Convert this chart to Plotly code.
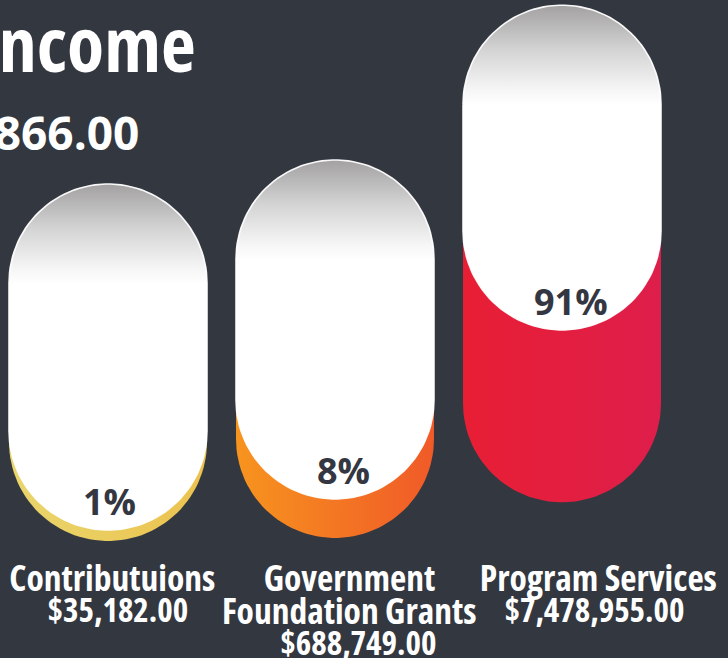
import json
import numpy as np
import plotly.graph_objects as go

# ---------------- data ----------------
categories = ["Contributuions", "Government<br>Foundation Grants", "Program Services"]
amounts = [35182.00, 688749.00, 7478955.00]
amount_labels = ["$35,182.00", "$688,749.00", "$7,478,955.00"]
percents = [1, 8, 91]
title_line1 = "Total Income"
title_line2 = "$8,202,866.00"

# ---------------- style ----------------
W, H = 728, 658
BG = "#333740"
TEXT_DARK = "#343741"
fill_colors = [["#e9d66c", "#ecc24f"], ["#f7941e", "#f05a28"], ["#e81e34", "#de1e4b"]]
white_scale = [[0, "#a3a1a2"], [0.45, "#d4d4d4"], [0.85, "#f6f6f6"], [1, "#ffffff"]]
FONT = "Open Sans"

X_PX0, X_STEP = 108, 227          # pixel centre of first column, pixels per column
PILL_R = 99                        # pill radius in px
LABEL_PX0, LABEL_STEP = 112, 243   # label column centres
label_xshift = [0, -6, 0]
amount_xshift = [6, 3, -4]
pct_xshift = [1, 8, 9]
LABEL_STRETCH = "75%"
TITLE_STRETCH = "75%"


def px_x(px):
    return (px - X_PX0) / X_STEP


# scales from percentage to pill geometry (y in px, downwards)
def stack_bottom(p):
    return 541 - 0.43 * (p - 1)


def stack_top(p):
    return stack_bottom(p) - (357 + 4.95 * (p - 1) ** 0.743)


def visible(p):
    return 11 * p ** 0.61


def pill(cx, top, bottom, r_px, n=60):
    rx = r_px / X_STEP
    t1 = np.linspace(np.pi, 0, n)
    t2 = np.linspace(0, -np.pi, n)
    xs = np.concatenate([cx + rx * np.cos(t1), cx + rx * np.cos(t2)])
    ys = np.concatenate([(top + r_px) - r_px * np.sin(t1), (bottom - r_px) - r_px * np.sin(t2)])
    xs = np.append(xs, xs[0])
    ys = np.append(ys, ys[0])
    return xs, ys


fig = go.Figure()
annotations = []
stretch = {}

for i, (cat, p) in enumerate(zip(categories, percents)):
    top = stack_top(p)
    bot = stack_bottom(p)
    wbot = bot - visible(p)
    # coloured pill
    xs, ys = pill(i, top + 40, bot, PILL_R)
    fig.add_trace(go.Scatter(
        x=xs, y=ys, mode="lines", fill="toself",
        line=dict(width=0, color=fill_colors[i][1]),
        fillgradient=dict(type="horizontal",
                          colorscale=[[0, fill_colors[i][0]], [1, fill_colors[i][1]]]),
        hoverinfo="skip", showlegend=False))
    # white cap pill
    xs, ys = pill(i, top, wbot, PILL_R)
    fig.add_trace(go.Scatter(
        x=xs, y=ys, mode="lines", fill="toself",
        line=dict(width=1.6, color="rgba(255,255,255,0.95)"),
        fillgradient=dict(type="vertical", colorscale=white_scale,
                          start=top, stop=top + 100),
        hoverinfo="skip", showlegend=False))
    # percentage text
    annotations.append(dict(
        x=i, y=wbot - 28.5, xref="x", yref="y", text=f"{p}%", showarrow=False,
        xshift=pct_xshift[i], xanchor="center", yanchor="middle",
        font=dict(family=FONT, size=36, color=TEXT_DARK, weight=700)))
    # category label lines
    name_lines = cat.split("<br>")
    lines = name_lines + [amount_labels[i]]
    lx = px_x(LABEL_PX0 + LABEL_STEP * i)
    for j, ln in enumerate(lines):
        is_amount = j == len(lines) - 1
        stretch[len(annotations)] = LABEL_STRETCH
        annotations.append(dict(
            x=lx, y=577 + 32.5 * j, xref="x", yref="y", text=ln, showarrow=False,
            xshift=amount_xshift[i] if is_amount else label_xshift[i],
            xanchor="center", yanchor="middle", align="center",
            font=dict(family=FONT, size=33 if is_amount else 35.5,
                      color="#ffffff", weight=700)))

stretch[len(annotations)] = TITLE_STRETCH
annotations.append(dict(
    x=198 / W, y=1 - 42.5 / H, xref="paper", yref="paper", text=title_line1,
    showarrow=False, xanchor="right", yanchor="middle", align="right",
    font=dict(family=FONT, size=76, color="#ffffff", weight=700)))
annotations.append(dict(
    x=141 / W, y=1 - 132 / H, xref="paper", yref="paper", text=title_line2,
    showarrow=False, xanchor="right", yanchor="middle", align="right",
    font=dict(family=FONT, size=46, color="#ffffff", weight=700)))

fig.update_layout(
    width=W, height=H,
    margin=dict(l=0, r=0, t=0, b=0),
    paper_bgcolor=BG, plot_bgcolor=BG,
    showlegend=False,
    xaxis=dict(visible=False, range=[px_x(0), px_x(W)], fixedrange=True),
    yaxis=dict(visible=False, range=[H, 0], fixedrange=True),
    annotations=annotations,
)

post = """
document.body.style.margin = '0';
document.body.style.background = '#333740';
document.body.style.overflow = 'hidden';
var gd = document.getElementById('{plot_id}');
var STRETCH = %s;
function condense(){
  Object.keys(STRETCH).forEach(function(k){
    gd.querySelectorAll('g.annotation[data-index="' + k + '"] text').forEach(function(t){
      t.style.fontStretch = STRETCH[k];
    });
  });
}
condense();
if (gd.on) { gd.on('plotly_afterplot', condense); }
""" % json.dumps({str(k): v for k, v in stretch.items()})

fig.write_html("out.html", config={"displayModeBar": False}, post_script=post)
